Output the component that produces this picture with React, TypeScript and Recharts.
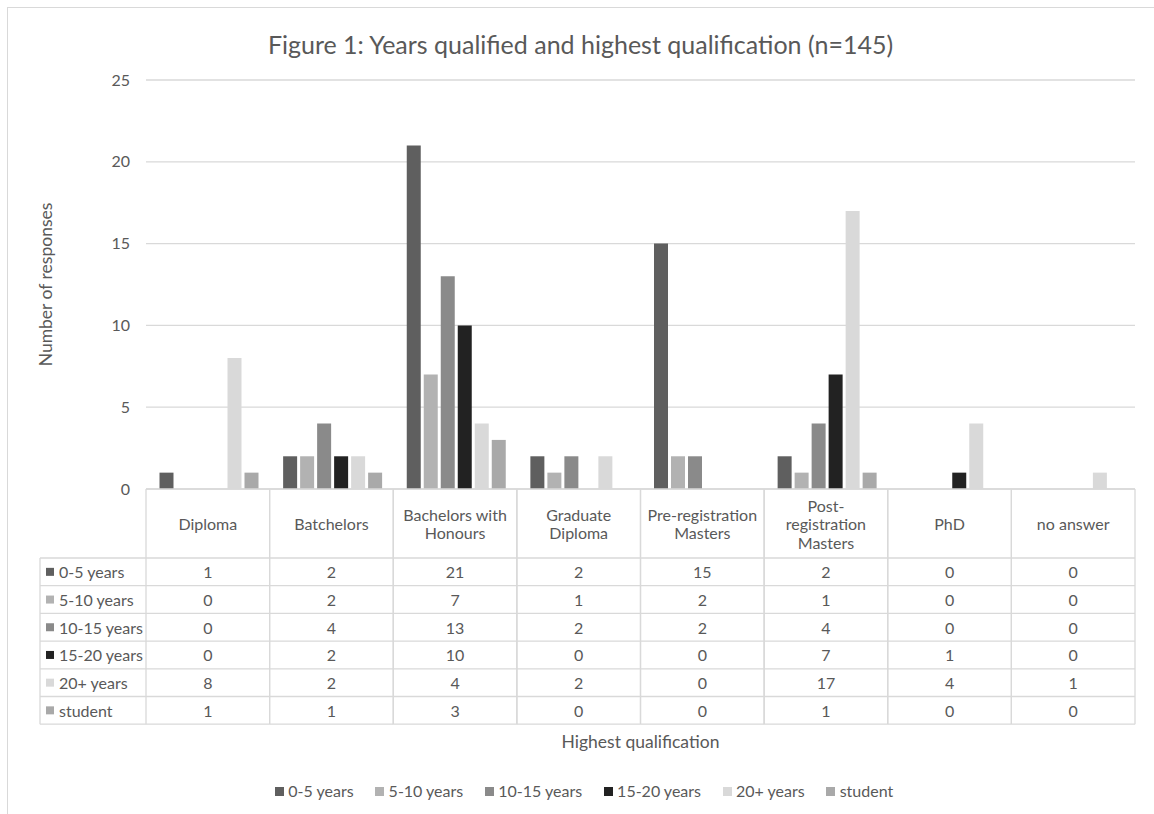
import React from "react";
import { BarChart, Bar, XAxis, YAxis, CartesianGrid, Label } from "recharts";

const categories = [
  "Diploma",
  "Batchelors",
  "Bachelors with Honours",
  "Graduate Diploma",
  "Pre-registration Masters",
  "Post-registration Masters",
  "PhD",
  "no answer",
];

// how the header cells wrap in the data table
const headerLines = [
  ["Diploma"],
  ["Batchelors"],
  ["Bachelors with", "Honours"],
  ["Graduate", "Diploma"],
  ["Pre-registration", "Masters"],
  ["Post-", "registration", "Masters"],
  ["PhD"],
  ["no answer"],
];

const years0to5 = [1, 2, 21, 2, 15, 2, 0, 0];
const years5to10 = [0, 2, 7, 1, 2, 1, 0, 0];
const years10to15 = [0, 4, 13, 2, 2, 4, 0, 0];
const years15to20 = [0, 2, 10, 0, 0, 7, 1, 0];
const years20plus = [8, 2, 4, 2, 0, 17, 4, 1];
const student = [1, 1, 3, 0, 0, 1, 0, 0];

const seriesNames = ["0-5 years", "5-10 years", "10-15 years", "15-20 years", "20+ years", "student"];
const seriesValues = [years0to5, years5to10, years10to15, years15to20, years20plus, student];
const seriesColors = ["#5f5f5f", "#b2b2b2", "#8a8a8a", "#222222", "#d9d9d9", "#a9a9a9"];

const yTicks = [0, 5, 10, 15, 20, 25];

const data = categories.map((name, i) => {
  const row: Record<string, string | number> = { name };
  seriesValues.forEach((vals, s) => {
    row["s" + s] = vals[i];
  });
  return row;
});

const TEXT = "#595959";
const LINE = "#d9d9d9";
const FONT = "Lato, 'Open Sans', sans-serif";
const HEADER_H = 69;
const ROW_H = 27.7;
const KEY_LEFT = 40;
const PLOT_W = 989;

function TableTick(props: any) {
  const { x, y, payload } = props;
  const i = payload.index ?? props.index ?? 0;
  const half = payload.offset && payload.offset > 1 ? payload.offset : PLOT_W / categories.length / 2;
  const left = x - half;
  const right = x + half;
  const bodyTop = y + HEADER_H;
  const bottom = bodyTop + ROW_H * seriesNames.length;
  const lines = headerLines[i] || [String(payload.value)];
  const lineH = 18.5;
  const firstY = y + HEADER_H / 2 - ((lines.length - 1) * lineH) / 2;

  return (
    <g fontFamily={FONT} fontSize={16} fill={TEXT}>
      <line x1={left} y1={y} x2={left} y2={bottom} stroke={LINE} strokeWidth={1.3} />
      <line x1={right} y1={y} x2={right} y2={bottom} stroke={LINE} strokeWidth={1.3} />
      {seriesNames.map((_, k) => (
        <line key={"h" + k} x1={left} y1={bodyTop + k * ROW_H} x2={right} y2={bodyTop + k * ROW_H} stroke={LINE} strokeWidth={1.3} />
      ))}
      <line x1={left} y1={bottom} x2={right} y2={bottom} stroke={LINE} strokeWidth={1.3} />
      {lines.map((t, k) => (
        <text key={"t" + k} x={x} y={firstY + k * lineH} textAnchor="middle" dominantBaseline="central">
          {t}
        </text>
      ))}
      {seriesValues.map((vals, k) => (
        <text key={"v" + k} x={x} y={bodyTop + k * ROW_H + ROW_H / 2} textAnchor="middle" dominantBaseline="central">
          {vals[i]}
        </text>
      ))}
      {i === 0 && (
        <g>
          <line x1={KEY_LEFT} y1={bodyTop} x2={KEY_LEFT} y2={bottom} stroke={LINE} strokeWidth={1.3} />
          {seriesNames.map((name, k) => {
            const cy = bodyTop + k * ROW_H + ROW_H / 2;
            return (
              <g key={"k" + k}>
                <line x1={KEY_LEFT} y1={bodyTop + k * ROW_H} x2={left} y2={bodyTop + k * ROW_H} stroke={LINE} strokeWidth={1.3} />
                <rect x={KEY_LEFT + 6} y={cy - 4} width={8} height={8} fill={seriesColors[k]} />
                <text x={KEY_LEFT + 19} y={cy} dominantBaseline="central">
                  {name}
                </text>
              </g>
            );
          })}
          <line x1={KEY_LEFT} y1={bottom} x2={left} y2={bottom} stroke={LINE} strokeWidth={1.3} />
        </g>
      )}
    </g>
  );
}

export default function App() {
  return (
    <div
      style={{
        position: "absolute",
        left: 0,
        top: 0,
        width: 1154,
        height: 814,
        overflow: "hidden",
        background: "#fff",
        fontFamily: FONT,
      }}
    >
      <div
        style={{
          position: "absolute",
          left: 7,
          top: 7,
          width: 1170,
          height: 830,
          border: `1.5px solid ${LINE}`,
        }}
      />
      <div
        style={{
          position: "absolute",
          left: 0,
          top: 30,
          width: 1161,
          textAlign: "center",
          fontSize: 25,
          lineHeight: "28px",
          color: TEXT,
        }}
      >
        Figure 1: Years qualified and highest qualification (n=145)
      </div>

      <div style={{ position: "absolute", left: 0, top: 0 }}>
        <BarChart
          width={1154}
          height={814}
          data={data}
          margin={{ top: 80, right: 19, bottom: 0, left: 0 }}
          barCategoryGap={13.5}
          barGap={3}
        >
          <CartesianGrid vertical={false} stroke={LINE} strokeWidth={1.3} />
          <YAxis
            width={146}
            domain={[0, 25]}
            ticks={yTicks}
            axisLine={false}
            tickLine={false}
            tickSize={0}
            tickMargin={16}
            tick={{ fill: TEXT, fontSize: 16, fontFamily: FONT }}
          >
            <Label
              content={({ viewBox }: any) => {
                const cy = viewBox.y + viewBox.height / 2;
                return (
                  <text
                    x={45}
                    y={cy}
                    transform={`rotate(-90 45 ${cy})`}
                    textAnchor="middle"
                    dominantBaseline="central"
                    fill={TEXT}
                    fontSize={17.5}
                    fontFamily={FONT}
                  >
                    Number of responses
                  </text>
                );
              }}
            />
          </YAxis>
          <XAxis
            dataKey="name"
            height={325}
            interval={0}
            tickLine={false}
            tickSize={0}
            tickMargin={0}
            axisLine={{ stroke: LINE, strokeWidth: 1.3 }}
            tick={<TableTick />}
          >
            <Label
              content={({ viewBox }: any) => (
                <text
                  x={viewBox.x + viewBox.width / 2}
                  y={viewBox.y + 252}
                  textAnchor="middle"
                  dominantBaseline="central"
                  fill={TEXT}
                  fontSize={17.5}
                  fontFamily={FONT}
                >
                  Highest qualification
                </text>
              )}
            />
          </XAxis>
          {seriesNames.map((name, s) => (
            <Bar key={name} dataKey={"s" + s} name={name} fill={seriesColors[s]} isAnimationActive={false} />
          ))}
        </BarChart>
      </div>

      <div
        style={{
          position: "absolute",
          left: 0,
          top: 781,
          width: 1168,
          display: "flex",
          justifyContent: "center",
          fontSize: 16,
          lineHeight: "20px",
          color: TEXT,
        }}
      >
        {seriesNames.map((name, s) => (
          <div key={name} style={{ display: "flex", alignItems: "center", marginRight: s < seriesNames.length - 1 ? 21.5 : 0 }}>
            <span style={{ display: "inline-block", width: 9, height: 9, background: seriesColors[s], marginRight: 4.5 }} />
            <span>{name}</span>
          </div>
        ))}
      </div>
    </div>
  );
}
